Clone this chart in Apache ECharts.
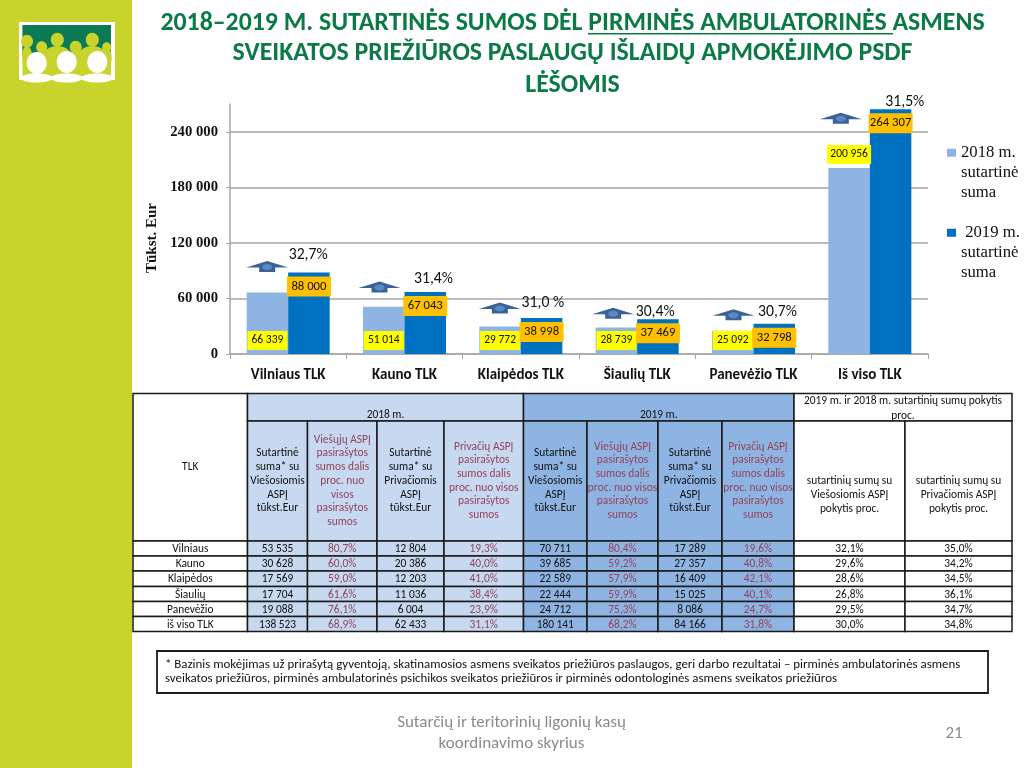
<!DOCTYPE html>
<html><head><meta charset="utf-8">
<style>html,body{margin:0;padding:0;background:#fff}#c{width:1024px;height:768px}</style>
<script src="https://cdn.jsdelivr.net/npm/echarts@6/dist/echarts.min.js"></script>
</head><body><div id="c"></div>
<script>
// ---------- chart data ----------
const categories = ['Vilniaus TLK','Kauno TLK','Klaipėdos TLK','Šiaulių TLK','Panevėžio TLK','Iš viso TLK'];
const sum2018 = [66339,51014,29772,28739,25092,200956];
const sum2019 = [88000,67043,38998,37469,32798,264307];
const growth = ['32,7%','31,4%','31,0 %','30,4%','30,7%','31,5%'];
const yTicks = {max:270000, interval:60000};
// ---------- table data ----------
const rowNames = ['Vilniaus','Kauno','Klaipėdos','Šiaulių','Panevėžio','iš viso TLK'];
const pub2018 = ['53 535','30 628','17 569','17 704','19 088','138 523'];
const pubShare2018 = ['80,7%','60,0%','59,0%','61,6%','76,1%','68,9%'];
const priv2018 = ['12 804','20 386','12 203','11 036','6 004','62 433'];
const privShare2018 = ['19,3%','40,0%','41,0%','38,4%','23,9%','31,1%'];
const pub2019 = ['70 711','39 685','22 589','22 444','24 712','180 141'];
const pubShare2019 = ['80,4%','59,2%','57,9%','59,9%','75,3%','68,2%'];
const priv2019 = ['17 289','27 357','16 409','15 025','8 086','84 166'];
const privShare2019 = ['19,6%','40,8%','42,1%','40,1%','24,7%','31,8%'];
const pubChange = ['32,1%','29,6%','28,6%','26,8%','29,5%','30,0%'];
const privChange = ['35,0%','34,2%','34,5%','36,1%','34,7%','34,8%'];
const headPub = 'Sutartinė\nsuma* su\nViešosiomis\nASPĮ\ntūkst.Eur';
const headPriv = 'Sutartinė\nsuma* su\nPrivačiomis\nASPĮ\ntūkst.Eur';
const headPubShareA = 'Viešųjų ASPĮ\npasirašytos\nsumos dalis\nproc. nuo\nvisos\npasirašytos\nsumos';
const headPubShareB = 'Viešųjų ASPĮ\npasirašytos\nsumos dalis\nproc. nuo visos\npasirašytos\nsumos';
const headPrivShare = 'Privačių ASPĮ\npasirašytos\nsumos dalis\nproc. nuo visos\npasirašytos\nsumos';
const titleLines = ['2018–2019 M. SUTARTINĖS SUMOS DĖL PIRMINĖS AMBULATORINĖS ASMENS','SVEIKATOS PRIEŽIŪROS PASLAUGŲ IŠLAIDŲ APMOKĖJIMO PSDF','LĖŠOMIS'];
const footnote = ['* Bazinis mokėjimas už prirašytą gyventoją, skatinamosios asmens sveikatos priežiūros paslaugos, geri darbo rezultatai – pirminės ambulatorinės asmens','sveikatos priežiūros, pirminės ambulatorinės psichikos sveikatos priežiūros ir pirminės odontologinės asmens sveikatos priežiūros'];
const footer = ['Sutarčių ir teritorinių ligonių kasų','koordinavimo skyrius'];

// ---------- styles ----------
const SANS = 'Carlito, Lato, sans-serif';
const SERIF = '"Liberation Serif", serif';
const C18 = '#8EB4E3', C19 = '#0070C0', LIME = '#C8D32B', GREEN = '#0B7A45', MAROON = '#95435A';
const CELL18 = '#C6D9F1', CELL19 = '#8EB4E3';
// annotation offsets from each category centre / 2019 bar top
const arrowOff = [[-21,-6],[-25,-5],[-21,-10],[-24,-6],[-20,-9],[-29,9]];
const pctOff = [[20,-17],[29,-13],[22,-15],[18,-7],[24,-12],[35,-7]];

const colX = [133,247.5,307.5,377,444,523.5,587,658,722,794,905,1012];
const rowY = [541,556,571,586.5,601.5,616.5,631.5];
const TOP = 393.5, SPLIT = 421;

const g = [];
const rect = (x,y,w,h,fill,stroke,lw,z) => g.push({type:'rect',z:z||1,shape:{x,y,width:w,height:h},style:{fill:fill||'transparent',stroke:stroke||null,lineWidth:lw||0},silent:true});
const text = (x,y,t,size,fill,opt) => g.push({type:'text',z:5,x,y,silent:true,style:Object.assign({text:t,fontSize:size,fontFamily:SANS,fill:fill,align:'center',verticalAlign:'middle'},opt||{})});
const circ = (cx,cy,r,fill,ry,z) => g.push({type:'ellipse',z:z||2,shape:{cx,cy,rx:r,ry:ry||r},style:{fill},silent:true});

// side band and logo
rect(0,0,132,768,LIME);
rect(19,22,96,58,'#FFFFFF');
rect(22.5,25,88.5,51.5,LIME);
rect(22.5,25,88.5,29,'#0B7A55');
[[27,41.3,6],[41.7,47.3,5.5],[57.3,39.7,6.5],[75.7,47.3,6],[92.3,39.7,6.5],[106.7,47.3,4.5]].forEach(p=>circ(p[0],p[1],p[2],LIME,p[2]+.5));
[[27,56,5],[41.7,62,13],[57.3,56,14],[75.7,62,13],[92.3,56,14],[106.7,58,5]].forEach(p=>circ(p[0],p[1],p[2],LIME,10));
[[36.7,63],[66.7,62],[97.3,62]].forEach(p=>circ(p[0],p[1],10,'#FFFFFF',11,3));
[[36.7,78],[66.7,78],[97.3,78]].forEach(p=>circ(p[0],p[1],16,'#FFFFFF',4.5,3));

// title
titleLines.forEach((t,i)=>text(572.5,[24,54,86][i],t,25.8,GREEN,{fontWeight:'bold'}));
rect(588,33,305,1.6,GREEN,null,0,6);

// table
const columns = [rowNames,pub2018,pubShare2018,priv2018,privShare2018,pub2019,pubShare2019,priv2019,privShare2019,pubChange,privChange];
const colFill = i => i===0||i>=9 ? '#FFFFFF' : (i<=4 ? CELL18 : CELL19);
const colText = i => (i>=1&&i<=8&&i%2===0) ? MAROON : '#111111';
const B = '#1A1A1A';
const TS = 11.4;
// header group cells
rect(colX[0],TOP,colX[1]-colX[0],rowY[0]-TOP,'#FFFFFF',B,1.5);
text((colX[0]+colX[1])/2,467,'TLK',TS,'#111');
rect(colX[1],TOP,colX[5]-colX[1],SPLIT-TOP,CELL18,B,1.5);
text((colX[1]+colX[5])/2,415.5,'2018 m.',TS,'#111');
rect(colX[5],TOP,colX[9]-colX[5],SPLIT-TOP,CELL19,B,1.5);
text((colX[5]+colX[9])/2,415.5,'2019 m.',TS,'#111');
rect(colX[9],TOP,colX[11]-colX[9],SPLIT-TOP,'#FFFFFF',B,1.5);
text((colX[9]+colX[11])/2,408.5,'2019 m. ir 2018 m. sutartinių sumų pokytis\nproc.',TS,'#111',{lineHeight:15});
const heads = [null,headPub,headPubShareA,headPriv,headPrivShare,headPub,headPubShareB,headPriv,headPrivShare,
  'sutartinių sumų su\nViešosiomis ASPĮ\npokytis proc.','sutartinių sumų su\nPrivačiomis ASPĮ\npokytis proc.'];
const headY = [0,481,481,481,481,481,481,481,481,495,495];
for(let i=1;i<=10;i++){
  rect(colX[i],SPLIT,colX[i+1]-colX[i],rowY[0]-SPLIT,colFill(i),B,1.5);
  text((colX[i]+colX[i+1])/2,headY[i],heads[i],TS,colText(i),{lineHeight:13.7});
}
// body cells
columns.forEach((col,i)=>col.forEach((v,r)=>{
  rect(colX[i],rowY[r],colX[i+1]-colX[i],rowY[r+1]-rowY[r],colFill(i),B,1.5);
  text((colX[i]+colX[i+1])/2,rowY[r]+8.5,v,TS,colText(i));
}));

// footnote box
rect(157,651,831,42,'#FFFFFF','#1A1A1A',1.8);
footnote.forEach((t,i)=>text(165,[664.5,679][i],t,12.9,'#111',{align:'left'}));

// footer
footer.forEach((t,i)=>text(511.5,[723,744][i],t,17,'#8A8A8A'));
text(954,734,'21',17,'#8A8A8A');

const LEGEND_ICON = 'path://M0 0L1 0Z M0 6H10V15H0Z M0 66L1 66Z';
const option = {
  animation:false,
  backgroundColor:'#FFFFFF',
  grid:{left:230,right:96,top:104,height:250,containLabel:false},
  legend:{
    left:947,top:143,orient:'vertical',itemGap:20,itemWidth:9,itemHeight:60,selectedMode:false,
    data:[
      {name:'2018 m.\nsutartinė\nsuma',icon:LEGEND_ICON},
      {name:' 2019 m.\nsutartinė\nsuma',icon:LEGEND_ICON}
    ],
    textStyle:{fontFamily:SERIF,fontSize:16.7,color:'#111',lineHeight:20,padding:[0,0,0,0]},
    padding:0,
    itemStyle:{borderWidth:0}
  },
  xAxis:{type:'category',data:categories,
    axisLine:{lineStyle:{color:'#A6A6A6',width:1.5}},
    axisTick:{show:true,length:5,lineStyle:{color:'#A6A6A6'}},
    axisLabel:{fontFamily:SANS,fontWeight:'bold',fontSize:15,color:'#111',margin:14,interval:0},
    splitLine:{show:false}},
  yAxis:{type:'value',min:0,max:yTicks.max,interval:yTicks.interval,
    name:'Tūkst. Eur',nameLocation:'middle',nameGap:61,
    nameTextStyle:{fontFamily:SERIF,fontWeight:'bold',fontSize:15,color:'#111',padding:[0,18,0,0]},
    axisLine:{show:true,lineStyle:{color:'#A6A6A6',width:1.5}},
    axisTick:{show:true,length:4,lineStyle:{color:'#A6A6A6'}},
    axisLabel:{showMaxLabel:false,fontFamily:SERIF,fontWeight:'bold',fontSize:14.7,color:'#111',margin:12,
      formatter:v=>String(v).replace(/\B(?=(\d{3})+$)/g,' ')},
    splitLine:{show:true,showMaxLine:false,lineStyle:{color:'#A6A6A6',width:1.5}}},
  series:[
    {name:'2018 m.\nsutartinė\nsuma',type:'bar',barWidth:41.5,barGap:'0%',itemStyle:{color:C18},
     data:sum2018.map((v,i)=>({value:v,label:i===5?{position:'top',distance:4,width:44}:{}})),
     label:{show:true,position:'insideBottom',distance:4,width:40,height:19,lineHeight:19,align:'center',
       backgroundColor:'#FFFF00',color:'#111',fontFamily:SANS,fontSize:11.5,
       formatter:p=>String(p.value).replace(/\B(?=(\d{3})+$)/g,' ')}},
    {name:' 2019 m.\nsutartinė\nsuma',type:'bar',barWidth:41.5,itemStyle:{color:C19},
     data:sum2019,
     label:{show:true,position:'insideTop',distance:4,width:44,height:20,lineHeight:20,align:'center',
       backgroundColor:'#FFC000',color:'#111',fontFamily:SANS,fontSize:12.7,
       formatter:p=>String(p.value).replace(/\B(?=(\d{3})+$)/g,' ')}},
    {type:'custom',silent:true,clip:false,z:6,
     data:sum2019.map((v,i)=>[i,v]),encode:{x:0,y:1},
     renderItem:(params,api)=>{
       const i=api.value(0), p=api.coord([i,api.value(1)]);
       const ax=p[0]+arrowOff[i][0], ay=p[1]+arrowOff[i][1];
       return {type:'group',children:[
         {type:'polygon',shape:{points:[[ax,ay-5.5],[ax+21,ay+1],[ax+8,ay+1],[ax+8,ay+5.5],[ax-8,ay+5.5],[ax-8,ay+1],[ax-21,ay+1]]},style:{fill:'#3B6296'}},
         {type:'ellipse',shape:{cx:ax,cy:ay+0.5,rx:5,ry:3},style:{fill:'#5C8AC0'}},
         {type:'text',x:p[0]+pctOff[i][0],y:p[1]+pctOff[i][1],style:{text:growth[i],font:'15.7px Carlito, Lato, sans-serif',fill:'#111',align:'center',verticalAlign:'middle'}}
       ]};
     }}
  ],
  graphic:{elements:g}
};
echarts.init(document.getElementById('c'),null,{renderer:'canvas',width:1024,height:768}).setOption(option);
</script></body></html>
